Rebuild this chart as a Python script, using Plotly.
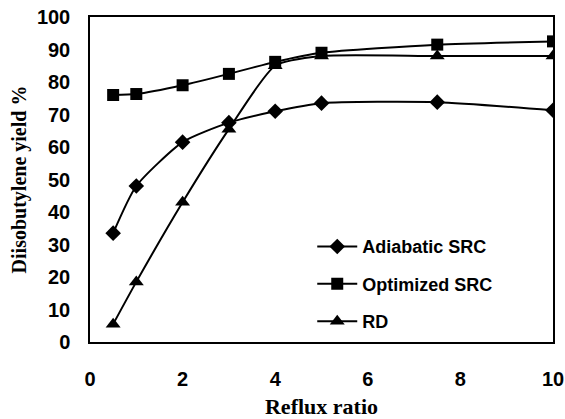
import plotly.graph_objects as go

reflux = [0.5, 1, 2, 3, 4, 5, 7.5, 10]
adiabatic = [33.5, 48, 61.5, 67.5, 71, 73.5, 73.8, 71.3]
optimized = [76, 76.3, 79, 82.5, 86.2, 89, 91.5, 92.5]
rd = [5.5, 18.5, 43, 65.5, 85, 88, 88, 88]
x_ticks = [0, 2, 4, 6, 8, 10]
y_ticks = [0, 10, 20, 30, 40, 50, 60, 70, 80, 90, 100]

fig = go.Figure()
series = [("Adiabatic SRC", adiabatic, "diamond", 12),
          ("Optimized SRC", optimized, "square", 12),
          ("RD", rd, "triangle-up", 13)]
for i, (name, ys, sym, sz) in enumerate(series):
    fig.add_trace(go.Scatter(
        x=reflux, y=ys, name=name, mode="lines+markers",
        line=dict(color="black", width=2, shape="spline", smoothing=0.6),
        marker=dict(symbol=sym, size=sz, color="black"),
        legendgroup=str(i)))

fig.update_layout(
    width=565, height=419,
    margin=dict(l=90, r=12, t=17, b=77, autoexpand=False),
    paper_bgcolor="white", plot_bgcolor="white",
    showlegend=True,
    legend=dict(x=0.48, y=0.35, xanchor="left", yanchor="top",
                bgcolor="rgba(0,0,0,0)",
                font=dict(family="Liberation Sans, Arial, sans-serif", size=18,
                          color="black", weight="bold"),
                tracegroupgap=11, itemwidth=40),
    xaxis=dict(range=[0, 10], tickvals=x_ticks, showgrid=False, zeroline=False,
               showline=True, linecolor="black", linewidth=1.5, mirror=True,
               ticks="", ticklabelstandoff=18, automargin=False,
               tickfont=dict(family="Liberation Sans, Arial, sans-serif", size=20,
                             color="black", weight="bold"),
               title=dict(text="Reflux ratio",
                          font=dict(family="Liberation Serif, Times New Roman, serif",
                                    size=22, color="black", weight="bold"),
                          standoff=16)),
    yaxis=dict(range=[0, 100], tickvals=y_ticks, showgrid=False, zeroline=False,
               showline=True, linecolor="black", linewidth=1.5, mirror=True,
               ticks="", ticklabelstandoff=14, automargin=False,
               tickfont=dict(family="Liberation Sans, Arial, sans-serif", size=20,
                             color="black", weight="bold"),
               title=dict(text="Diisobutylene yield %",
                          font=dict(family="Liberation Serif, Times New Roman, serif",
                                    size=20, color="black", weight="bold"),
                          standoff=5)),
)

fig.write_html("out.html", config={"displayModeBar": False},
               post_script="document.body.style.margin='0';document.body.style.overflow='hidden';")
